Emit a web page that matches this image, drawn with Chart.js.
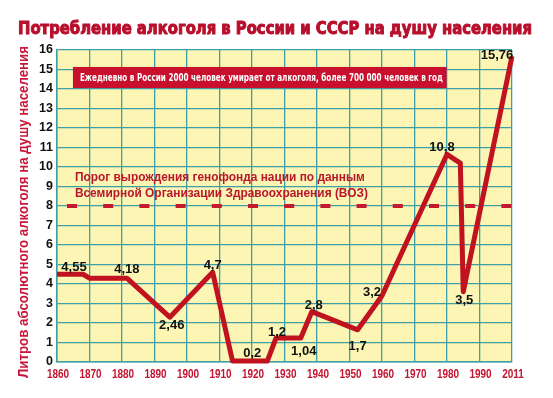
<!DOCTYPE html>
<html>
<head>
<meta charset="utf-8">
<script src="https://cdn.jsdelivr.net/npm/chart.js@4"></script>
<style>
  body { margin: 0; background: #fff; }
  canvas { display: block; }
</style>
</head>
<body>
<canvas id="chart" width="553" height="398"></canvas>
<script>
// positions on the drawn year axis (the last column is labelled 2011)
const years = [1860, 1868, 1870, 1881.5, 1894.7, 1907.9, 1914, 1924.7, 1927.4, 1935, 1938.4, 1952.5, 1960, 1980, 1984.1, 1985, 2000];
const litres = [4.5, 4.5, 4.3, 4.3, 2.3, 4.6, 0.05, 0.05, 1.23, 1.23, 2.58, 1.65, 3.4, 10.65, 10.2, 3.6, 15.68];
const pointLabels = ["4,55", "", "", "4,18", "2,46", "4,7", "", "0,2", "1,2", "1,04", "2,8", "1,7", "3,2", "10,8", "", "3,5", "15,76"];
const xTicks = [1860, 1870, 1880, 1890, 1900, 1910, 1920, 1930, 1940, 1950, 1960, 1970, 1980, 1990, 2011];
const threshold = 8;

const title = "Потребление алкоголя в России и СССР на душу населения";
const yTitle = "Литров абсолютного алкоголя на душу населения";
const banner = "Ежедневно в России 2000 человек умирает от алкоголя, более 700 000 человек в год";
const note = ["Порог вырождения генофонда нации по данным", "Всемирной Организации Здравоохранения (ВОЗ)"];

// label placement relative to each point (dx, dy)
const labelShift = [[17, -7], null, null, [0, -9], [2, 8], [0, -7], null, [-15, -8], [1, -6], [3, 13], [2, -6], [0, 17], [-10, -3], [-5, -7], null, [1, 9], [-15, -1]];

function fitText(ctx, text, x, y, width, stroke) {
  const w = ctx.measureText(text).width;
  ctx.save();
  ctx.translate(x, y);
  ctx.scale(width / w, 1);
  if (stroke) ctx.strokeText(text, 0, 0);
  ctx.fillText(text, 0, 0);
  ctx.restore();
}

function squeezeText(ctx, text, x, y, k) {
  ctx.save();
  ctx.translate(x, y);
  ctx.scale(k, 1);
  ctx.fillText(text, 0, 0);
  ctx.restore();
}

const decor = {
  id: "decor",
  beforeDraw(chart) {
    const { ctx, chartArea: a } = chart;
    ctx.save();
    ctx.fillStyle = "#fcf5b4";
    ctx.fillRect(a.left, a.top, a.right - a.left, a.bottom - a.top);
    ctx.restore();
  },
  afterDatasetsDraw(chart) {
    const { ctx, chartArea: a, scales: { x, y } } = chart;
    ctx.save();
    // title
    ctx.fillStyle = "#b80f2c";
    ctx.strokeStyle = "#b80f2c";
    ctx.lineWidth = 1;
    ctx.lineJoin = "round";
    ctx.font = "bold 18.5px 'DejaVu Sans Condensed'";
    ctx.textAlign = "left";
    ctx.textBaseline = "alphabetic";
    fitText(ctx, title, 18, 33.5, 514, true);

    // y axis title
    ctx.save();
    ctx.translate(28, 378);
    ctx.rotate(-Math.PI / 2);
    ctx.fillStyle = "#c8173a";
    ctx.font = "bold 14px 'Liberation Sans'";
    fitText(ctx, yTitle, 0, 0, 332);
    ctx.restore();

    // x tick labels
    ctx.fillStyle = "#c2142e";
    ctx.font = "bold 12.5px 'Liberation Sans'";
    ctx.textAlign = "center";
    ctx.textBaseline = "middle";
    x.ticks.forEach((t, i) => {
      squeezeText(ctx, String(xTicks[i]), x.getPixelForValue(t.value) + 1, a.bottom + 13, 0.8);
    });

    // banner
    const bx = x.getPixelForValue(1864.9), bx2 = x.getPixelForValue(1979.9);
    const by = y.getPixelForValue(15.13), by2 = y.getPixelForValue(14.05);
    ctx.fillStyle = "#c8102e";
    ctx.fillRect(bx, by, bx2 - bx, by2 - by);
    ctx.fillStyle = "#fff";
    ctx.font = "bold 10px 'DejaVu Sans Condensed'";
    ctx.textAlign = "left";
    fitText(ctx, banner, bx + 7, (by + by2) / 2 + 0.5, 363);

    // threshold note
    ctx.fillStyle = "#b8182c";
    ctx.font = "bold 13px 'Liberation Sans'";
    const nx = x.getPixelForValue(1865.5);
    fitText(ctx, note[0], nx, y.getPixelForValue(9.49), 290);
    fitText(ctx, note[1], nx, y.getPixelForValue(8.67), 293);

    // point labels
    ctx.fillStyle = "#111";
    ctx.font = "bold 13px 'Liberation Sans'";
    ctx.textAlign = "center";
    const pts = chart.getDatasetMeta(1).data;
    pointLabels.forEach((t, i) => {
      if (!t) return;
      const [dx, dy] = labelShift[i];
      ctx.fillText(t, pts[i].x + dx, pts[i].y + dy);
    });
    ctx.restore();
  }
};

new Chart(document.getElementById("chart"), {
  type: "line",
  data: {
    datasets: [
      {
        data: [{ x: 1860, y: threshold }, { x: 2000, y: threshold }],
        borderColor: "#c41a2b",
        borderWidth: 4,
        borderDash: [10, 26.2],
        borderDashOffset: 26.2,
        pointRadius: 0,
        order: 2
      },
      {
        data: years.map((v, i) => ({ x: v, y: litres[i] })),
        borderColor: "#c0121f",
        borderWidth: 5,
        borderJoinStyle: "round",
        tension: 0,
        pointRadius: 0,
        clip: false,
        order: 1
      }
    ]
  },
  options: {
    responsive: false,
    animation: false,
    devicePixelRatio: 1,
    layout: { padding: { left: 0, top: 50, right: 41, bottom: 0 } },
    plugins: { legend: { display: false }, tooltip: { enabled: false } },
    scales: {
      x: {
        type: "linear",
        min: 1860,
        max: 2000,
        afterBuildTicks: s => { s.ticks = xTicks.map((t, i) => ({ value: 1860 + i * 10 })); },
        afterFit: s => { s.height = 36; },
        ticks: { display: false },
        grid: { color: "#3f9ea6", lineWidth: 1.3, drawTicks: false },
        border: { color: "#3f9ea6", width: 1.5 }
      },
      y: {
        min: 0,
        max: 16,
        afterFit: s => { s.width = 57; },
        ticks: {
          stepSize: 1,
          color: "#111",
          font: { family: "'Liberation Sans'", weight: "bold", size: 12.5 },
          padding: 4
        },
        grid: { color: "#3f9ea6", lineWidth: 1.3, drawTicks: false },
        border: { color: "#3f9ea6", width: 1.5 }
      }
    }
  },
  plugins: [decor]
});
</script>
</body>
</html>
